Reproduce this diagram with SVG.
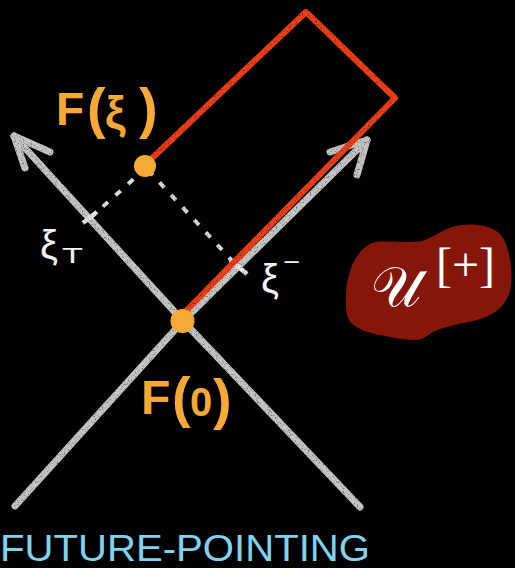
<svg xmlns="http://www.w3.org/2000/svg" width="515" height="568" viewBox="0 0 515 568">
<style>
.cone{fill:none;stroke:#c4c4c4;stroke-width:7;stroke-linecap:round;stroke-linejoin:round}
.red{fill:none;stroke:#ef3e16;stroke-width:6;stroke-linecap:round;stroke-linejoin:round}
.dash{fill:none;stroke:#dcdcdc;stroke-width:4;stroke-dasharray:7 10}
.tick{stroke:#e6e6e6;stroke-width:4.5;stroke-linecap:butt}
.dot{fill:#f6a935}
.lbl{fill:#f6a935;font-family:"Liberation Sans",Arial,sans-serif;font-weight:bold}
.wl{fill:#f2f2f2;font-family:"Liberation Sans",Arial,sans-serif}
.blue{fill:#7fd3ee;font-family:"Liberation Sans",Arial,sans-serif}
</style>
<defs>
<filter id="chalk" x="-5%" y="-5%" width="110%" height="110%">
<feTurbulence type="fractalNoise" baseFrequency="0.85" numOctaves="2" seed="4" result="n"/>
<feColorMatrix in="n" type="matrix" values="0 0 0 0 0 0 0 0 0 0 0 0 0 0 0 0 0 0 -2 2.1" result="m"/>
<feComposite in="SourceGraphic" in2="m" operator="in"/>
</filter>
</defs>
<rect width="515" height="568" fill="#000"/>
<g id="connectors" filter="url(#chalk)">
<path class="cone" d="M360,507 L183,321 L14,136"/>
<path class="cone" d="M25,168 L14,136 L50,152"/>
<path class="cone" d="M15,506 L183,321 L367,140"/>
<path class="cone" d="M330,152 L367,140 L357,175"/>
<path class="dash" d="M146,168 L90,218"/>
<path class="dash" d="M148,170 L237,266"/>
<line class="tick" x1="83" y1="223" x2="97" y2="212"/>
<line class="tick" x1="230" y1="260" x2="247" y2="274"/>
<path class="red" d="M147,163 L306,12 L395,98 L185,312"/>
</g>
<g id="node-F-xi">
<circle class="dot" cx="145" cy="166" r="11"/>
<text class="lbl" font-size="46" y="125"><tspan x="56">F</tspan><tspan x="87" font-size="56" y="127">(</tspan><tspan x="105" y="129" font-size="46">ξ</tspan><tspan x="139" font-size="56" y="127">)</tspan></text>
</g>
<g id="node-F-0">
<circle class="dot" cx="182.5" cy="321" r="12"/>
<text class="lbl" font-size="48" y="414"><tspan x="141">F</tspan><tspan x="172" font-size="56" y="416">(</tspan><tspan x="190" font-size="40">0</tspan><tspan x="213" font-size="56" y="418">)</tspan></text>
</g>
<g id="label-xi-T">
<text class="wl" font-size="40" x="40" y="259">ξ</text>
<text class="wl" font-size="22" x="62" y="263" textLength="21" lengthAdjust="spacingAndGlyphs">T</text>
</g>
<g id="label-xi-minus">
<text class="wl" font-size="40" x="261" y="293">ξ</text>
<text class="wl" font-size="24" x="283" y="270" textLength="17" lengthAdjust="spacingAndGlyphs">−</text>
</g>
<g id="node-U">
<path fill="#86160a" d="M347,315 C344,300 346,270 358,255 C365,245 372,242 380,241.5 C395,241 412,243 422,241 C432,238 440,231 452,227 C465,223 485,223 498,232 C507,240 511,258 511.5,275 C512,290 508,300 500,308 C493,315 480,320 468,322 C455,325 445,327 435,331 C428,334 424,340 416,340 C405,340 395,338 385,336 C372,334 358,330 350,322 Z"/>
<text fill="#fff" font-family="'Liberation Serif','DejaVu Serif',serif" font-size="56" x="371" y="306">𝒰</text>
<text fill="#fff" font-family="'Liberation Serif','DejaVu Serif',serif" font-size="48" x="436" y="281">[+]</text>
</g>
<g id="label-future">
<text class="blue" font-size="37" x="0" y="561" textLength="370" lengthAdjust="spacingAndGlyphs">FUTURE-POINTING</text>
</g>
</svg>
